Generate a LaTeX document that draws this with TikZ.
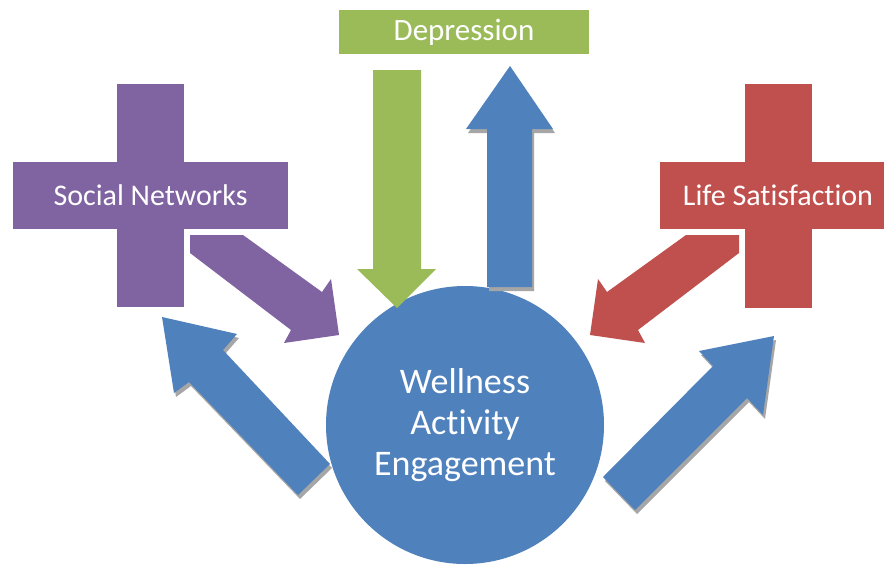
\documentclass[tikz,border=0pt]{standalone}
\usepackage{fontspec}
\setmainfont{Carlito}[Ligatures=NoCommon]
\usetikzlibrary{shadows}

\definecolor{hubblue}{HTML}{4F81BD}
\definecolor{netpurple}{HTML}{8064A2}
\definecolor{deprgreen}{HTML}{9BBB59}
\definecolor{satred}{HTML}{C0504D}

\begin{document}
\begin{tikzpicture}[
        x=1pt, y=-1pt,
        crossbar/.style={
            rectangle,
            fill=#1,
            inner sep=0pt,
            text=white,
            font=\fontsize{30}{36}\selectfont
        },
        feedback/.style={
            fill=hubblue,
            drop shadow={shadow xshift=2pt, shadow yshift=-4pt,
                fill=black!35, opacity=1}
        }
    ]

        \useasboundingbox[fill=white] (0,0) rectangle (884,565);
        \clip (0,0) rectangle (884,565);

        % centre
        \node[circle, fill=hubblue, minimum size=278pt, inner sep=0pt,
            text=white, align=center,
            font=\fontsize{36}{41}\selectfont] (wellness) at (465,425)
            {Wellness\\Activity\\Engagement};

        % the three outcomes
        \fill[netpurple] (117,84) rectangle (184,307);
        \node[crossbar=netpurple, minimum width=275pt, minimum height=67pt]
            (social) at (150.5,195.5) {Social Networks};

        \fill[satred] (745,84) rectangle (812,308);
        \node[crossbar=satred, minimum width=237pt, minimum height=67pt]
            (lifesat) at (778.5,195.5) {};
        \node[text=white, font=\fontsize{30}{36}\selectfont] at (778,195.5)
            {Life Satisfaction};

        \node[crossbar=deprgreen, minimum width=250pt, minimum height=44pt,
            font=\fontsize{31}{36}\selectfont]
            (depression) at (464,32) {Depression};

        % arrows into the centre
        \fill[netpurple] (190,235) -- (243,235) -- (322,292) -- (331,279)
            -- (339,335) -- (284,343) -- (291,330) -- (190,253) -- cycle;
        \fill[satred] (739,235) -- (686,235) -- (607,292) -- (598,279)
            -- (590,335) -- (645,343) -- (638,330) -- (739,253) -- cycle;
        \fill[deprgreen] (373,70) -- (421,70) -- (421,269) -- (436,269)
            -- (397,308) -- (357,269) -- (373,269) -- cycle;

        % arrows back out
        \fill[feedback] (487,287) -- (487,129) -- (466,129) -- (510,66)
            -- (553,129) -- (532,129) -- (532,287) -- cycle;
        \fill[feedback] (330,464) -- (223,350) -- (237,334) -- (162,317)
            -- (174,393) -- (189,382) -- (298,495) -- cycle;
        \fill[feedback] (603,477) -- (713,366) -- (699,351) -- (774,336)
            -- (763,415) -- (747,398) -- (635,510) -- cycle;

    \end{tikzpicture}
\end{document}
